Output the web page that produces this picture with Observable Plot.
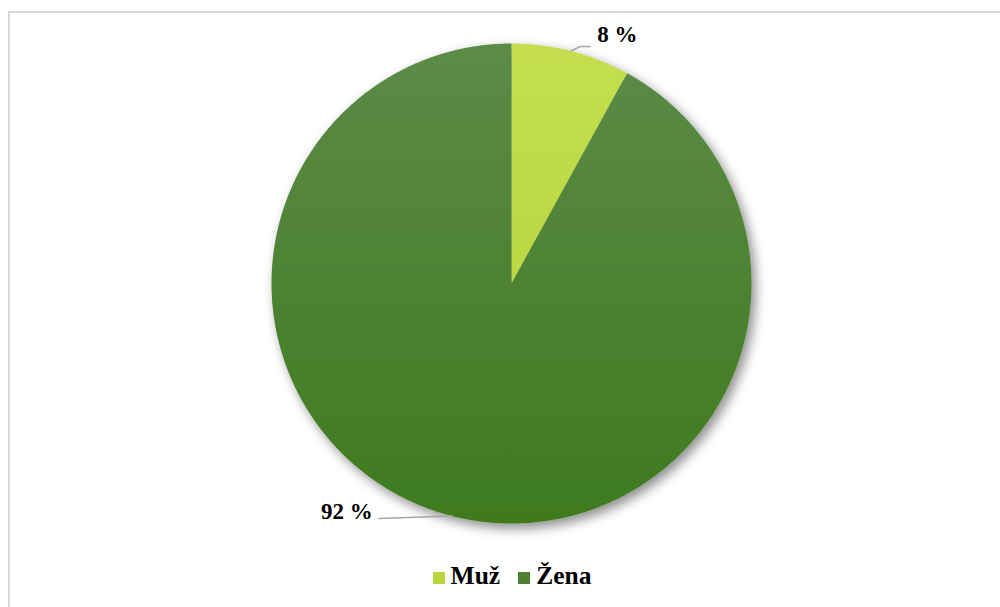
<!DOCTYPE html>
<html><head><meta charset="utf-8">
<script src="https://cdn.jsdelivr.net/npm/d3@7"></script>
<script src="https://cdn.jsdelivr.net/npm/@observablehq/plot@0.6"></script>
<style>
body{margin:0;background:#fff;}
#wrap{position:relative;width:1000px;height:607px;overflow:hidden;}
#frame{position:absolute;left:8px;top:11px;width:1010px;height:700px;border:2px solid #d9d9d9;box-sizing:border-box;}
#chart{position:absolute;left:0;top:0;}
#legend{position:absolute;left:0;top:561px;width:1024px;display:flex;justify-content:center;align-items:center;gap:18px;font-family:"Liberation Serif","Tinos","Times New Roman","DejaVu Serif",serif;font-weight:bold;font-size:25.5px;color:#000;}
#legend .item{display:flex;align-items:center;gap:6px;}
#legend .sw{width:12px;height:12px;display:inline-block;margin-top:3px;}
</style></head>
<body><div id="wrap"><div id="frame"></div><div id="chart"></div><div id="legend"></div></div>
<script>
const categories = ["Muž", "Žena"];
const values = [8, 92];
const labels = ["8 %", "92 %"];
const gradTop = ["#c4de50", "#5c8b48"];
const gradBottom = ["#b0d232", "#3f7a1e"];
const swatch = ["#b9d63c", "#4f8032"];

const FONT = "'Liberation Serif', 'Tinos', 'Times New Roman', 'DejaVu Serif', serif";
const W = 1000, H = 560, R = 240, CX = 511, CY = 283;
const arcs = d3.pie().sort(null).startAngle(0).endAngle(2 * Math.PI)(values);

// slice polygons in radius units (y up)
const slicePts = arcs.map((a, i) => {
  const pts = [{x: 0, y: 0, c: categories[i]}];
  const n = Math.max(4, Math.ceil((a.endAngle - a.startAngle) / 0.005));
  for (let k = 0; k <= n; k++) {
    const t = a.startAngle + (a.endAngle - a.startAngle) * k / n;
    pts.push({x: Math.sin(t), y: Math.cos(t), c: categories[i]});
  }
  pts.push({x: 0, y: 0, c: categories[i]});
  return pts;
});

// leader lines
const u = 1 / R;
const leaders = arcs.map((a, i) => {
  const m = (a.startAngle + a.endAngle) / 2;
  const x0 = Math.sin(m), y0 = Math.cos(m);
  if (x0 >= 0) {
    return [{x: x0, y: y0, c: i}, {x: x0 + 9 * u, y: y0 + 4.5 * u, c: i}, {x: x0 + 19 * u, y: y0 + 4.5 * u, c: i}];
  }
  return [{x: x0, y: y0, c: i}, {x: x0 - 73 * u, y: y0 - 2.5 * u, c: i}];
});
const labelPts = arcs.map((a, i) => {
  const l = leaders[i][leaders[i].length - 1];
  const right = l.x >= 0;
  return {x: l.x + (right ? 7 : -6) * u, y: l.y + (right ? 12 : 7) * u, t: labels[i], right};
});

const marks = [];
slicePts.forEach((pts, i) => {
  marks.push(Plot.line(pts, {x: "x", y: "y", fill: `url(#grad${i})`, stroke: "none", curve: "linear"}));
});
marks.push(Plot.line(leaders.flat(), {x: "x", y: "y", z: "c", stroke: "#a6a6a6", strokeWidth: 1.5}));
const textOpts = {x: "x", y: "y", text: "t", fontSize: 23, fontWeight: "bold", fontFamily: FONT, fill: "#000"};
marks.push(Plot.text(labelPts.filter(d => d.right), {...textOpts, textAnchor: "start"}));
marks.push(Plot.text(labelPts.filter(d => !d.right), {...textOpts, textAnchor: "end"}));

const chart = Plot.plot({
  width: W, height: H,
  margin: 0,
  x: {domain: [-CX / R, (W - CX) / R], range: [0, W], axis: null},
  y: {domain: [-(H - CY) / R, CY / R], range: [H, 0], axis: null},
  marks
});

// gradients and shadow
const svg = d3.select(chart);
const defs = svg.insert("defs", ":first-child");
[0, 1].forEach(i => {
  const g = defs.append("linearGradient").attr("id", `grad${i}`)
    .attr("gradientUnits", "userSpaceOnUse").attr("x1", 0).attr("y1", CY - R).attr("x2", 0).attr("y2", CY + R);
  g.append("stop").attr("offset", "0%").attr("stop-color", gradTop[i]);
  g.append("stop").attr("offset", "100%").attr("stop-color", gradBottom[i]);
});
const f = defs.append("filter").attr("id", "shadow").attr("x", "-10%").attr("y", "-10%").attr("width", "120%").attr("height", "120%");
f.append("feDropShadow").attr("dx", 4).attr("dy", 5).attr("stdDeviation", 6).attr("flood-color", "#000").attr("flood-opacity", 0.45);
const lineGroups = svg.selectAll("g[aria-label='line']").nodes();
const pieG = svg.insert("g", () => lineGroups[0]).attr("filter", "url(#shadow)");
lineGroups.slice(0, 2).forEach(n => pieG.node().appendChild(n));

document.getElementById("chart").appendChild(chart);

const leg = d3.select("#legend");
categories.forEach((c, i) => {
  const it = leg.append("span").attr("class", "item");
  it.append("span").attr("class", "sw").style("background", swatch[i]);
  it.append("span").text(c);
});
</script>
</body></html>
